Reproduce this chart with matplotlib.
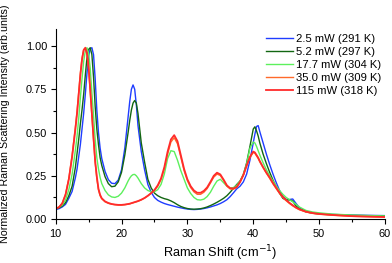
import matplotlib
matplotlib.use("Agg")
import matplotlib.pyplot as plt
from matplotlib.ticker import MultipleLocator

plt.rcParams['font.family'] = ['Liberation Sans', 'DejaVu Sans']

# Raman shift (cm-1), shared by all spectra
shift = [10, 10.5, 11, 11.5, 12, 12.5, 13, 13.25, 13.5, 13.75,
         14, 14.25, 14.5, 14.75, 15, 15.25, 15.5, 15.75, 16, 16.25,
         16.5, 16.75, 17, 17.5, 18, 18.5, 19, 19.5, 20, 20.5,
         21, 21.25, 21.5, 21.75, 22, 22.25, 22.5, 23, 23.5, 24,
         24.5, 25, 25.5, 26, 26.5, 27, 27.5, 28, 28.5, 29,
         29.5, 30, 30.5, 31, 31.5, 32, 32.5, 33, 33.5, 34,
         34.5, 35, 35.5, 36, 36.5, 37, 37.5, 38, 38.5, 39,
         39.5, 40, 40.25, 40.5, 40.75, 41, 41.5, 42, 42.5, 43,
         43.5, 44, 44.5, 45, 45.5, 46, 46.5, 47, 48, 49,
         50, 52, 55, 60]

p2_5 = [0.055, 0.06, 0.07, 0.085, 0.12, 0.16, 0.24, 0.29, 0.36, 0.43,
        0.52, 0.61, 0.72, 0.84, 0.94, 0.985, 0.99, 0.95, 0.81, 0.63,
        0.50, 0.41, 0.35, 0.275, 0.228, 0.207, 0.205, 0.225, 0.285, 0.41,
        0.59, 0.68, 0.75, 0.775, 0.75, 0.66, 0.54, 0.39, 0.285, 0.20,
        0.155, 0.125, 0.108, 0.098, 0.09, 0.084, 0.079, 0.074, 0.069, 0.065,
        0.061, 0.058, 0.056, 0.055, 0.056, 0.058, 0.061, 0.065, 0.07, 0.076,
        0.082, 0.09, 0.10, 0.112, 0.13, 0.152, 0.175, 0.19, 0.215, 0.26,
        0.34, 0.44, 0.49, 0.535, 0.54, 0.505, 0.44, 0.375, 0.315, 0.26,
        0.21, 0.165, 0.13, 0.114, 0.113, 0.116, 0.09, 0.066, 0.045, 0.036,
        0.032, 0.027, 0.023, 0.02]

p5_2 = [0.06, 0.065, 0.075, 0.095, 0.135, 0.19, 0.30, 0.38, 0.46, 0.55,
        0.63, 0.72, 0.83, 0.93, 0.98, 0.99, 0.95, 0.82, 0.65, 0.52,
        0.43, 0.355, 0.31, 0.245, 0.205, 0.187, 0.19, 0.215, 0.27, 0.37,
        0.50, 0.57, 0.63, 0.67, 0.685, 0.67, 0.61, 0.44, 0.33, 0.23,
        0.18, 0.15, 0.135, 0.125, 0.118, 0.113, 0.105, 0.095, 0.083, 0.073,
        0.066, 0.061, 0.058, 0.057, 0.058, 0.06, 0.064, 0.07, 0.078, 0.087,
        0.097, 0.108, 0.12, 0.135, 0.155, 0.178, 0.2, 0.22, 0.255, 0.325,
        0.42, 0.52, 0.533, 0.51, 0.48, 0.44, 0.375, 0.32, 0.27, 0.225,
        0.185, 0.15, 0.12, 0.11, 0.111, 0.104, 0.076, 0.058, 0.042, 0.034,
        0.03, 0.025, 0.021, 0.018]

p17_7 = [0.06, 0.068, 0.08, 0.11, 0.17, 0.26, 0.40, 0.48, 0.58, 0.70,
         0.81, 0.91, 0.97, 0.99, 0.96, 0.87, 0.73, 0.60, 0.46, 0.355,
         0.29, 0.24, 0.205, 0.165, 0.14, 0.128, 0.125, 0.132, 0.15, 0.18,
         0.22, 0.237, 0.25, 0.257, 0.258, 0.25, 0.237, 0.205, 0.18, 0.165,
         0.158, 0.158, 0.17, 0.20, 0.26, 0.35, 0.395, 0.39, 0.34, 0.28,
         0.23, 0.18, 0.148, 0.125, 0.112, 0.11, 0.115, 0.13, 0.155, 0.19,
         0.22, 0.23, 0.21, 0.19, 0.18, 0.182, 0.195, 0.22, 0.26, 0.32,
         0.41, 0.445, 0.44, 0.42, 0.395, 0.37, 0.325, 0.285, 0.25, 0.22,
         0.19, 0.165, 0.143, 0.125, 0.112, 0.1, 0.085, 0.07, 0.05, 0.041,
         0.036, 0.029, 0.023, 0.018]

p35 = [0.062, 0.07, 0.093, 0.145, 0.235, 0.37, 0.535, 0.625, 0.735, 0.845,
       0.93, 0.98, 0.985, 0.95, 0.865, 0.735, 0.595, 0.455, 0.325, 0.235,
       0.168, 0.135, 0.117, 0.10, 0.091, 0.086, 0.083, 0.081, 0.081, 0.083,
       0.086, 0.088, 0.091, 0.094, 0.097, 0.10, 0.103, 0.111, 0.121, 0.134,
       0.149, 0.166, 0.19, 0.228, 0.29, 0.375, 0.445, 0.47, 0.435, 0.358,
       0.28, 0.222, 0.182, 0.157, 0.143, 0.143, 0.155, 0.176, 0.208, 0.242,
       0.26, 0.252, 0.223, 0.19, 0.174, 0.173, 0.183, 0.212, 0.252, 0.305,
       0.355, 0.385, 0.38, 0.365, 0.35, 0.33, 0.296, 0.265, 0.235, 0.203,
       0.175, 0.148, 0.124, 0.106, 0.09, 0.076, 0.064, 0.054, 0.041, 0.033,
       0.028, 0.022, 0.016, 0.011]

p115 = [0.06, 0.068, 0.09, 0.14, 0.23, 0.36, 0.52, 0.61, 0.72, 0.83,
        0.92, 0.975, 0.99, 0.96, 0.88, 0.75, 0.61, 0.47, 0.335, 0.245,
        0.175, 0.14, 0.12, 0.102, 0.093, 0.087, 0.084, 0.082, 0.082, 0.084,
        0.087, 0.089, 0.092, 0.095, 0.098, 0.101, 0.104, 0.112, 0.122, 0.135,
        0.15, 0.168, 0.195, 0.235, 0.30, 0.39, 0.46, 0.485, 0.45, 0.37,
        0.29, 0.23, 0.19, 0.165, 0.152, 0.152, 0.163, 0.183, 0.215, 0.25,
        0.268, 0.258, 0.228, 0.195, 0.178, 0.177, 0.186, 0.215, 0.255, 0.31,
        0.36, 0.39, 0.385, 0.37, 0.355, 0.335, 0.30, 0.268, 0.24, 0.208,
        0.18, 0.152, 0.128, 0.11, 0.094, 0.08, 0.067, 0.057, 0.043, 0.035,
        0.03, 0.024, 0.017, 0.012]

labels = ["2.5 mW (291 K)", "5.2 mW (297 K)", "17.7 mW (304 K)",
          "35.0 mW (309 K)", "115 mW (318 K)"]
series = [p2_5, p5_2, p17_7, p35, p115]
colors = ["#1f3dff", "#126612", "#5cf05c", "#ff6a2a", "#ff2b2b"]
widths = [1.0, 1.0, 1.0, 1.0, 1.3]

fig = plt.figure(figsize=(3.92, 2.63), dpi=100)
ax = fig.add_axes([0.142, 0.167, 0.840, 0.724])

for y, lab, c, w in zip(series, labels, colors, widths):
    ax.plot(shift, y, color=c, lw=w, label=lab)

ax.set_xlim(10, 60)
ax.set_ylim(0, 1.1)
ax.set_xticks([10, 20, 30, 40, 50, 60])
ax.set_yticks([0, 0.25, 0.5, 0.75, 1.0])
ax.set_yticklabels(["0.00", "0.25", "0.50", "0.75", "1.00"])
ax.xaxis.set_minor_locator(MultipleLocator(5))
ax.yaxis.set_minor_locator(MultipleLocator(0.125))
ax.tick_params(which="major", direction="out", length=3.5, width=0.8, labelsize=7.9, pad=2.5)
ax.tick_params(axis="x", which="major", pad=3.5)
ax.tick_params(which="minor", direction="out", length=2, width=0.8)
ax.spines["top"].set_visible(False)
ax.spines["right"].set_visible(False)

ax.set_xlabel("Raman Shift (cm$^{-1}$)", fontsize=9.2, labelpad=3)
ax.set_ylabel("Normalized Raman Scattering Intensity (arb.units)", fontsize=7.7)
ax.yaxis.set_label_coords(-0.14, 0.5)

ax.legend(loc="upper left", bbox_to_anchor=(266 / 392, 1 - 34 / 263),
          bbox_transform=fig.transFigure, frameon=False, fontsize=8.1,
          borderpad=0, labelspacing=0.27, handlelength=2.4, handletextpad=0.3,
          borderaxespad=0)

fig.savefig("out.png", dpi=100)
